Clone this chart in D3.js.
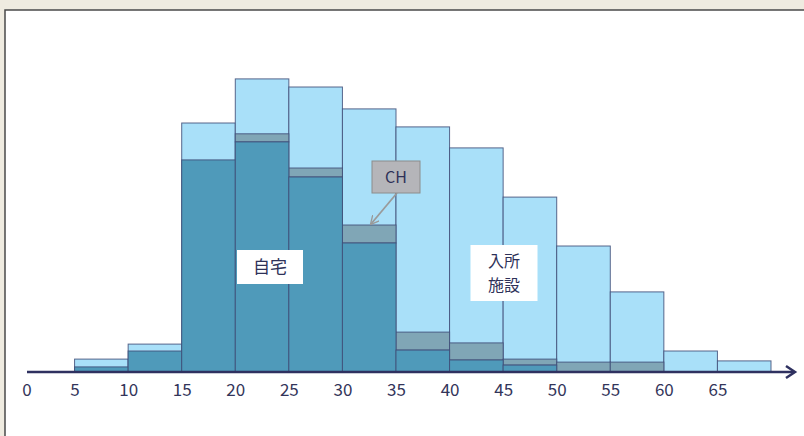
<!DOCTYPE html>
<html>
<head>
<meta charset="utf-8">
<script src="https://cdn.jsdelivr.net/npm/d3@7"></script>
<style>
  html, body { margin: 0; padding: 0; background: #efebe0; }
  svg { display: block; }
  text { font-family: "Noto Sans CJK JP", "Noto Sans", sans-serif; }
</style>
</head>
<body>
<svg id="chart" width="804" height="436"></svg>
<script>
// age bins (lower bound of each 5-year class)
const bins = [5, 10, 15, 20, 25, 30, 35, 40, 45, 50, 55, 60, 65];
// total (all living places)
const totalValues = [4.3, 9.3, 83, 97.7, 95, 87.7, 81.7, 74.7, 58.3, 42, 26.7, 7, 3.7];
// living at home
const homeValues = [1.7, 7, 70.7, 76.7, 65, 43, 7.3, 4, 2.3, 0, 0, 0, 0];
// group home (CH)
const chValues = [0, 0, 0, 2.7, 3, 6, 6, 5.7, 2, 3.3, 3.3, 0, 0];
const tickLabels = [0, 5, 10, 15, 20, 25, 30, 35, 40, 45, 50, 55, 60, 65];

const svg = d3.select("#chart");

// Panel
svg.append("rect")
  .attr("x", 5).attr("y", 10)
  .attr("width", 810).attr("height", 440)
  .attr("fill", "#ffffff")
  .attr("stroke", "#4a4a4a")
  .attr("stroke-width", 1.5);

const x = d3.scaleLinear().domain([0, 70]).range([21, 771]);
const y = d3.scaleLinear().domain([0, 100]).range([372, 72]);

const data = bins.map((b, i) => ({
  b,
  total: totalValues[i],
  home: homeValues[i],
  ch: chValues[i]
}));

const strokeCol = "#3f4d78";
const g = svg.append("g");

// Total (light blue)
g.selectAll(".total")
  .data(data)
  .join("rect")
  .attr("class", "total")
  .attr("x", d => x(d.b))
  .attr("width", d => x(d.b + 5) - x(d.b))
  .attr("y", d => y(d.total))
  .attr("height", d => y(0) - y(d.total))
  .attr("fill", "#a9e0f9")
  .attr("stroke", strokeCol)
  .attr("stroke-opacity", 0.85)
  .attr("stroke-width", 1);

// CH layer (grey blue), stacked on home
g.selectAll(".ch")
  .data(data.filter(d => d.ch > 0))
  .join("rect")
  .attr("class", "ch")
  .attr("x", d => x(d.b))
  .attr("width", d => x(d.b + 5) - x(d.b))
  .attr("y", d => y(d.home + d.ch))
  .attr("height", d => y(d.home) - y(d.home + d.ch))
  .attr("fill", "#80a6b6")
  .attr("stroke", strokeCol)
  .attr("stroke-opacity", 0.85)
  .attr("stroke-width", 1);

// Home layer (teal)
g.selectAll(".home")
  .data(data.filter(d => d.home > 0))
  .join("rect")
  .attr("class", "home")
  .attr("x", d => x(d.b))
  .attr("width", d => x(d.b + 5) - x(d.b))
  .attr("y", d => y(d.home))
  .attr("height", d => y(0) - y(d.home))
  .attr("fill", "#4f9aba")
  .attr("stroke", strokeCol)
  .attr("stroke-opacity", 0.85)
  .attr("stroke-width", 1);

// Axis line with open arrow head
const axisCol = "#2f3160";
svg.append("line")
  .attr("x1", 27).attr("x2", 794)
  .attr("y1", y(0)).attr("y2", y(0))
  .attr("stroke", axisCol)
  .attr("stroke-width", 2.5);
svg.append("path")
  .attr("d", `M786,${y(0) - 6}L795,${y(0)}L786,${y(0) + 6}`)
  .attr("fill", "none")
  .attr("stroke", axisCol)
  .attr("stroke-width", 2.5);

// Tick labels
const axis = d3.axisBottom(x)
  .tickValues(tickLabels)
  .tickSize(0)
  .tickPadding(12)
  .tickFormat(d3.format("d"));
const ax = svg.append("g")
  .attr("transform", `translate(0,${y(0)})`)
  .call(axis);
ax.select(".domain").remove();
ax.selectAll("text")
  .attr("font-size", 17)
  .attr("fill", "#33355a")
  .style("font-family", "'Noto Sans CJK JP', sans-serif");
ax.selectAll(".tick").filter(d => d === 0)
  .attr("transform", `translate(27,0)`);

// Labels in white boxes
function boxLabel(cx, cy, w, h, lines, size, lead) {
  svg.append("rect")
    .attr("x", cx - w / 2).attr("y", cy - h / 2)
    .attr("width", w).attr("height", h)
    .attr("fill", "#ffffff");
  lines.forEach((s, i) => {
    svg.append("text")
      .attr("x", cx)
      .attr("y", cy + size * 0.36 + (i - (lines.length - 1) / 2) * lead)
      .attr("text-anchor", "middle")
      .attr("font-size", size)
      .attr("fill", "#2e3158")
      .text(s);
  });
}
boxLabel(270, 267, 66, 34, ["自宅"], 17, 0);
boxLabel(504, 273, 67, 56, ["入所", "施設"], 16, 24);

// CH callout
svg.append("defs").append("marker")
  .attr("id", "arr")
  .attr("viewBox", "0 -5 10 10")
  .attr("refX", 9).attr("refY", 0)
  .attr("markerWidth", 9).attr("markerHeight", 9)
  .attr("markerUnits", "userSpaceOnUse")
  .attr("orient", "auto")
  .append("path")
  .attr("d", "M0,-5L10,0L0,5")
  .attr("fill", "none")
  .attr("stroke", "#9a9a9a")
  .attr("stroke-width", 1.5);
svg.append("line")
  .attr("x1", 397).attr("y1", 193)
  .attr("x2", 371).attr("y2", 224)
  .attr("stroke", "#9a9a9a")
  .attr("stroke-width", 1.8)
  .attr("marker-end", "url(#arr)");
svg.append("rect")
  .attr("x", 372).attr("y", 161)
  .attr("width", 48).attr("height", 32)
  .attr("fill", "#b5b5b9")
  .attr("stroke", "#8c8c8c")
  .attr("stroke-width", 1);
svg.append("text")
  .attr("x", 396).attr("y", 183)
  .attr("text-anchor", "middle")
  .attr("font-size", 16)
  .attr("fill", "#2e3158")
  .text("CH");
</script>
</body>
</html>
